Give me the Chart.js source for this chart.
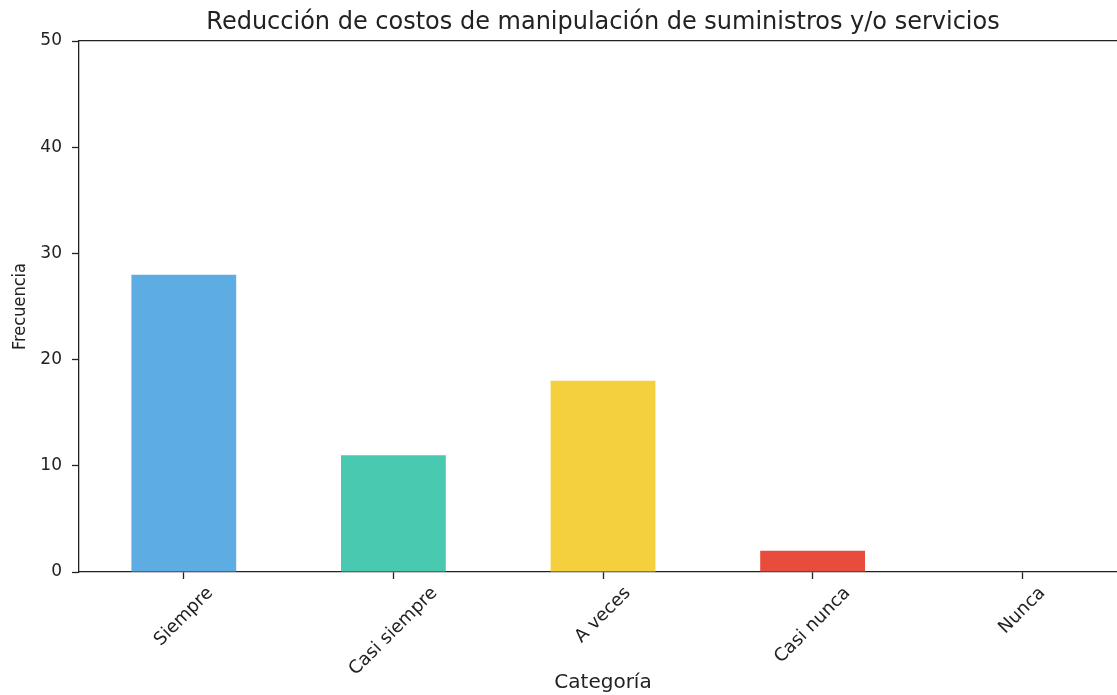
<!DOCTYPE html>
<html>
<head>
<meta charset="utf-8">
<script src="https://cdn.jsdelivr.net/npm/chart.js@4"></script>
<style>
  html, body { margin: 0; padding: 0; background: #fff; overflow: hidden; }
  #wrap { width: 1127px; height: 695px; }
</style>
</head>
<body>
<div id="wrap"><canvas id="chart" width="1127" height="695"></canvas></div>
<script>
/* ── data ── */
const categories = ['Siempre', 'Casi siempre', 'A veces', 'Casi nunca', 'Nunca'];
const counts     = [28, 11, 18, 2, 0];
const barColors  = ['#5DADE2', '#48C9B0', '#F4D03F', '#E74C3C', '#95A5A6'];
const yTicks     = [0, 10, 20, 30, 40, 50];
const titleText  = 'Reducción de costos de manipulación de suministros y/o servicios';

const INK  = '#222';
const FONT = 'DejaVu Sans, sans-serif';

/* title centred over the axes + rotated, centred x tick labels (matplotlib style) */
const mplTextPlugin = {
  id: 'mplText',
  afterDraw(chart) {
    const ctx = chart.ctx;
    const area = chart.chartArea;
    const x = chart.scales.x;

    ctx.save();
    ctx.fillStyle = INK;
    ctx.textAlign = 'center';
    ctx.textBaseline = 'middle';
    ctx.font = '24px ' + FONT;
    ctx.fillText(titleText, (area.left + area.right) / 2, 23);

    const size = 18;
    ctx.font = size + 'px ' + FONT;
    categories.forEach((lab, i) => {
      const px = x.getPixelForTick(i);
      const w = ctx.measureText(lab).width;
      const h = size * 1.164;
      const top = area.bottom + 11;
      const cy = top + (w + h) * Math.SQRT1_2 / 2;
      ctx.save();
      ctx.translate(px, cy);
      ctx.rotate(-Math.PI / 4);
      ctx.fillText(lab, 0, 0);
      ctx.restore();
    });
    ctx.restore();
  }
};

new Chart(document.getElementById('chart'), {
  type: 'bar',
  data: {
    labels: categories,
    datasets: [{
      data: counts,
      backgroundColor: barColors,
      borderWidth: 0,
      barPercentage: 0.5,
      categoryPercentage: 1.0,
    }]
  },
  options: {
    responsive: false,
    animation: false,
    layout: { padding: { top: 41, left: 0, right: 0, bottom: 0 } },
    plugins: {
      legend: { display: false },
      tooltip: { enabled: false },
      title: { display: false },
    },
    scales: {
      x: {
        type: 'category',
        position: 'bottom',
        grid: { display: true, offset: false, drawOnChartArea: false, drawTicks: true,
                tickLength: 7, tickColor: INK, tickWidth: 1.3 },
        border: { display: true, color: INK, width: 1.3 },
        ticks: { display: false },
        title: {
          display: true, text: 'Categoría', color: INK,
          font: { family: FONT, size: 20 },
          padding: { top: 0, bottom: 0 },
        },
        afterFit: s => { s.height = 123; },
      },
      x2: {
        type: 'category',
        position: 'top',
        labels: categories,
        grid: { display: false },
        border: { display: true, color: INK, width: 1.3 },
        ticks: { display: false },
        afterFit: s => { s.height = 0; },
      },
      y: {
        min: 0, max: 50,
        afterBuildTicks: s => { s.ticks = yTicks.map(v => ({ value: v })); },
        grid: { display: true, drawOnChartArea: false, drawTicks: true,
                tickLength: 7, tickColor: INK, tickWidth: 1.3 },
        border: { display: true, color: INK, width: 1.3 },
        ticks: { color: INK, font: { family: FONT, size: 17 }, padding: 10 },
        title: {
          display: true, text: 'Frecuencia', color: INK,
          font: { family: 'DejaVu Sans Condensed, DejaVu Sans, sans-serif', size: 18 },
          padding: { top: 10, bottom: 0 },
        },
        afterFit: s => { s.width = 79; },
      }
    }
  },
  plugins: [mplTextPlugin]
});
</script>
</body>
</html>
